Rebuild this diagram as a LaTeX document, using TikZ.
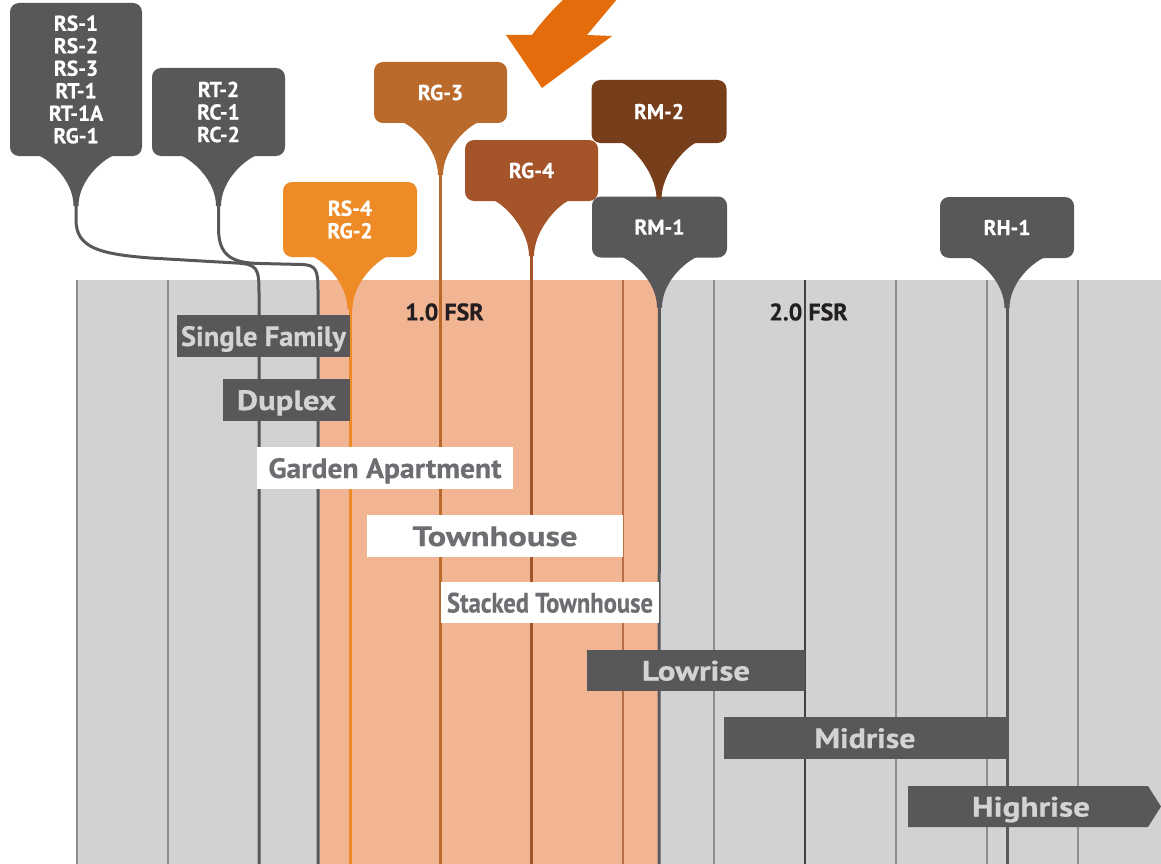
\documentclass[tikz,border=0pt]{standalone}
\usepackage{fontspec}
\setmainfont{PT Sans}[BoldFeatures={FakeBold=0.5}]
\usetikzlibrary{calc}
\definecolor{cDark}{HTML}{58585A}
\definecolor{cGrayBg}{HTML}{D1D2D4}
\definecolor{cPeach}{HTML}{F2B593}
\definecolor{cOrange}{HTML}{EE8B26}
\definecolor{cRGthree}{HTML}{BA6A2B}
\definecolor{cRGfour}{HTML}{A5542A}
\definecolor{cRMtwo}{HTML}{763E1B}
\definecolor{cArrow}{HTML}{E46C0A}
\definecolor{cBarText}{HTML}{D1D3D4}
\definecolor{cWhiteText}{HTML}{6D6E71}
\definecolor{cGrid}{HTML}{8E8E8E}
\definecolor{cGridOr}{HTML}{B86F45}
\definecolor{cFSR}{HTML}{231F20}

\newcommand\droptail[3]{%
  \fill[#2] ($(#1.south)+(-38,-1)$) .. controls +(12,5) and +(0,-26) .. ($(#1.south)+(-2.5,#3)$)
    -- ($(#1.south)+(2.5,#3)$) .. controls +(0,-26) and +(-12,5) .. ($(#1.south)+(38,-1)$) -- cycle;}

\tikzset{
  callout/.style={rounded corners=9pt, inner sep=0pt, text=white, align=center,
    font=\fontsize{21.5}{22.5}\selectfont\bfseries},
  barbase/.style={inner sep=0pt, text height=20pt, text depth=0pt,
    font=\fontsize{28}{30}\selectfont\bfseries},
  darkbar/.style={barbase, fill=cDark, text=cBarText},
  whitebar/.style={barbase, fill=white, text=cWhiteText},
  stemline/.style={line width=3pt},
  gridline/.style={cGrid, line width=1.2pt},
  fsrlabel/.style={text=cFSR, inner sep=0pt, font=\fontsize{24}{26}\selectfont\bfseries}
}

\begin{document}
\begin{tikzpicture}[x=1pt,y=-1pt]
\useasboundingbox (0,0) rectangle (1161,864);
\fill[white] (0,0) rectangle (1161,864);
% background regions
\fill[cGrayBg] (77,280) rectangle (1161,864);
\fill[cPeach] (320,280) rectangle (658,864);
% grid lines
\foreach \gx in {77,168,714,896,987,1078}
  \draw[gridline] (\gx,280) -- (\gx,864);
\draw[cGridOr, line width=1.2pt] (623,280) -- (623,864);
\draw[cFSR!85, line width=2pt] (805,280) -- (805,864);

% callout boxes
\node[callout, fill=cDark, minimum width=132, minimum height=153] (rs1) at (76,79.5)
  {RS-1\\RS-2\\RS-3\\RT-1\\RT-1A\\RG-1};
\node[callout, fill=cDark, minimum width=133, minimum height=88] (rt2) at (218.5,112)
  {RT-2\\RC-1\\RC-2};
\node[callout, fill=cOrange, minimum width=134, minimum height=75] (rs4) at (350,219.5)
  {RS-4\\RG-2};
\node[callout, fill=cRGthree, minimum width=133, minimum height=61] (rg3) at (440.5,92.5) {RG-3};
\node[callout, fill=cRGfour, minimum width=133, minimum height=61] (rg4) at (531.5,170.5) {RG-4};
\node[callout, fill=cRMtwo, minimum width=135, minimum height=63] (rm2) at (659,111.5) {RM-2};
\node[callout, fill=cDark, minimum width=135, minimum height=61] (rm1) at (659.5,227) {RM-1};
\node[callout, fill=cDark, minimum width=134, minimum height=61] (rh1) at (1007,227.5) {RH-1};

% stem end points
\coordinate (rs1end) at (259,864);
\coordinate (rt2end) at (318,864);
\coordinate (rs4end) at (350,864);
\coordinate (rg3end) at (440.5,864);
\coordinate (rg4end) at (531.5,864);
\coordinate (rm1end) at (659,864);
\coordinate (rh1end) at (1007,864);

% stems
\draw[stemline, cDark] (rs1.south) -- (76,220) .. controls (76,248) and (100,254) .. (150,258)
  -- (236,263) .. controls (257,264) and (259,268) .. (259,292) -- (rs1end);
\draw[stemline, cDark] (rt2.south) -- (218.5,228) .. controls (218.5,256) and (232,263) .. (260,263.5)
  -- (302,264.5) .. controls (316,265) and (318,270) .. (318,290) -- (rt2end);
\draw[stemline, cOrange] (rs4.south) -- (rs4end);
\draw[stemline, cRGthree] (rg3.south) -- (rg3end);
\draw[stemline, cRGfour] (rg4.south) -- (rg4end);
\draw[stemline, cDark] (rm1.south) -- (rm1end);
\draw[stemline, cDark] (rh1.south) -- (rh1end);

% tails
\droptail{rs1}{cDark}{50}
\droptail{rt2}{cDark}{50}
\droptail{rs4}{cOrange}{52}
\droptail{rg3}{cRGthree}{52}
\droptail{rg4}{cRGfour}{55}
\droptail{rm2}{cRMtwo}{56}
\droptail{rm1}{cDark}{50}
\droptail{rh1}{cDark}{50}

% FSR labels
\node[fsrlabel] (fsr1) at (444.5,312) {1.0 FSR};
\node[fsrlabel] (fsr2) at (808.5,312) {2.0 FSR};

% bars
\node[darkbar, minimum width=173, minimum height=42] (sf) at (263.5,336)
  {\resizebox{165pt}{\height}{Single Family}};
\node[darkbar, minimum width=127, minimum height=42] (dup) at (286.5,400)
  {\resizebox{99pt}{\height}{Duplex}};
\node[whitebar, minimum width=256, minimum height=42] (ga) at (385,468)
  {\resizebox{233pt}{\height}{Garden Apartment}};
\node[whitebar, minimum width=256, minimum height=42] (th) at (495,536)
  {\resizebox{165pt}{\height}{Townhouse}};
\node[whitebar, minimum width=218, minimum height=41] (st) at (550,602.5)
  {\resizebox{206pt}{\height}{Stacked Townhouse}};
\node[darkbar, minimum width=218, minimum height=41] (lr) at (696,670.5)
  {\resizebox{108pt}{\height}{Lowrise}};
\node[darkbar, minimum width=282, minimum height=42] (mr) at (865,738)
  {\resizebox{101pt}{\height}{Midrise}};
\fill[cDark] (908,786) -- (1148,786) -- (1161,806.5) -- (1148,827) -- (908,827) -- cycle;
\node[barbase, text=cBarText] (hr) at (1031,806.5)
  {\resizebox{118pt}{\height}{Highrise}};

% orange arrow
\fill[cArrow] (565,-2) .. controls (552,10) and (540,24) .. (532,35) -- (506,35) -- (542,88)
  -- (612,36) -- (587,35) -- (618,-2) -- cycle;
\end{tikzpicture}
\end{document}
